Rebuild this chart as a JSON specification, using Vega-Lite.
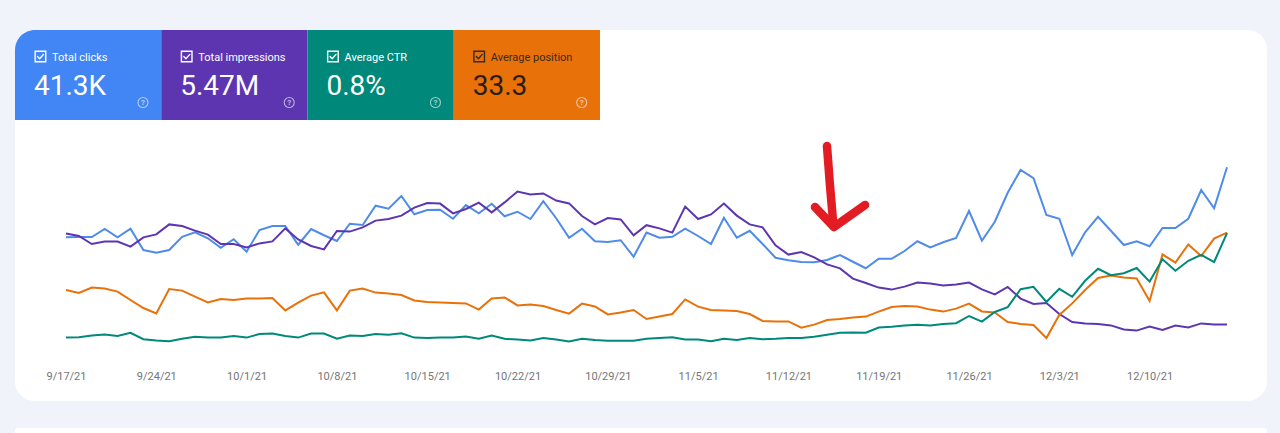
{
  "$schema": "https://vega.github.io/schema/vega-lite/v6.json",
  "background": "#f0f4fa",
  "padding": {"left": 15, "top": 30, "right": 13, "bottom": 0},
  "config": {"view": {"stroke": null}, "font": "Roboto"},
  "datasets": {
    "tiles": [
      {"metric": "Total clicks", "total": "41.3K"},
      {"metric": "Total impressions", "total": "5.47M"},
      {"metric": "Average CTR", "total": "0.8%"},
      {"metric": "Average position", "total": "33.3"}
    ],
    "daily": [
      {"date": "2021-09-17", "clicks": 451, "impressions": 68300, "ctr": 0.61, "position": 32.50},
      {"date": "2021-09-18", "clicks": 452, "impressions": 67000, "ctr": 0.62, "position": 32.65},
      {"date": "2021-09-19", "clicks": 452, "impressions": 63000, "ctr": 0.66, "position": 32.38},
      {"date": "2021-09-20", "clicks": 484, "impressions": 64200, "ctr": 0.69, "position": 32.43},
      {"date": "2021-09-21", "clicks": 451, "impressions": 64200, "ctr": 0.65, "position": 32.58},
      {"date": "2021-09-22", "clicks": 485, "impressions": 61700, "ctr": 0.73, "position": 33.00},
      {"date": "2021-09-23", "clicks": 400, "impressions": 66300, "ctr": 0.57, "position": 33.40},
      {"date": "2021-09-24", "clicks": 389, "impressions": 67800, "ctr": 0.54, "position": 33.67},
      {"date": "2021-09-25", "clicks": 400, "impressions": 72800, "ctr": 0.52, "position": 32.45},
      {"date": "2021-09-26", "clicks": 453, "impressions": 72000, "ctr": 0.58, "position": 32.53},
      {"date": "2021-09-27", "clicks": 471, "impressions": 69700, "ctr": 0.63, "position": 32.83},
      {"date": "2021-09-28", "clicks": 447, "impressions": 67700, "ctr": 0.61, "position": 33.12},
      {"date": "2021-09-29", "clicks": 409, "impressions": 63000, "ctr": 0.61, "position": 32.95},
      {"date": "2021-09-30", "clicks": 443, "impressions": 63000, "ctr": 0.65, "position": 33.00},
      {"date": "2021-10-01", "clicks": 393, "impressions": 61300, "ctr": 0.61, "position": 32.92},
      {"date": "2021-10-02", "clicks": 480, "impressions": 63300, "ctr": 0.70, "position": 32.92},
      {"date": "2021-10-03", "clicks": 496, "impressions": 64300, "ctr": 0.71, "position": 32.90},
      {"date": "2021-10-04", "clicks": 496, "impressions": 70800, "ctr": 0.65, "position": 33.52},
      {"date": "2021-10-05", "clicks": 421, "impressions": 65300, "ctr": 0.61, "position": 33.13},
      {"date": "2021-10-06", "clicks": 484, "impressions": 62000, "ctr": 0.71, "position": 32.78},
      {"date": "2021-10-07", "clicks": 459, "impressions": 60300, "ctr": 0.71, "position": 32.62},
      {"date": "2021-10-08", "clicks": 436, "impressions": 69500, "ctr": 0.58, "position": 33.52},
      {"date": "2021-10-09", "clicks": 505, "impressions": 69200, "ctr": 0.66, "position": 32.53},
      {"date": "2021-10-10", "clicks": 500, "impressions": 71300, "ctr": 0.65, "position": 32.43},
      {"date": "2021-10-11", "clicks": 577, "impressions": 74700, "ctr": 0.70, "position": 32.63},
      {"date": "2021-10-12", "clicks": 565, "impressions": 75500, "ctr": 0.68, "position": 32.68},
      {"date": "2021-10-13", "clicks": 616, "impressions": 77200, "ctr": 0.72, "position": 32.75},
      {"date": "2021-10-14", "clicks": 543, "impressions": 81200, "ctr": 0.61, "position": 33.02},
      {"date": "2021-10-15", "clicks": 560, "impressions": 83500, "ctr": 0.60, "position": 33.10},
      {"date": "2021-10-16", "clicks": 561, "impressions": 83200, "ctr": 0.61, "position": 33.12},
      {"date": "2021-10-17", "clicks": 525, "impressions": 78300, "ctr": 0.61, "position": 33.15},
      {"date": "2021-10-18", "clicks": 580, "impressions": 80500, "ctr": 0.64, "position": 33.17},
      {"date": "2021-10-19", "clicks": 547, "impressions": 83700, "ctr": 0.58, "position": 33.48},
      {"date": "2021-10-20", "clicks": 585, "impressions": 78800, "ctr": 0.66, "position": 32.92},
      {"date": "2021-10-21", "clicks": 535, "impressions": 83800, "ctr": 0.58, "position": 32.87},
      {"date": "2021-10-22", "clicks": 553, "impressions": 89200, "ctr": 0.56, "position": 33.27},
      {"date": "2021-10-23", "clicks": 524, "impressions": 87800, "ctr": 0.54, "position": 33.22},
      {"date": "2021-10-24", "clicks": 595, "impressions": 88300, "ctr": 0.60, "position": 33.30},
      {"date": "2021-10-25", "clicks": 527, "impressions": 84700, "ctr": 0.56, "position": 33.50},
      {"date": "2021-10-26", "clicks": 449, "impressions": 83300, "ctr": 0.51, "position": 33.68},
      {"date": "2021-10-27", "clicks": 485, "impressions": 77000, "ctr": 0.58, "position": 33.18},
      {"date": "2021-10-28", "clicks": 435, "impressions": 72800, "ctr": 0.55, "position": 33.32},
      {"date": "2021-10-29", "clicks": 432, "impressions": 76000, "ctr": 0.53, "position": 33.72},
      {"date": "2021-10-30", "clicks": 439, "impressions": 75300, "ctr": 0.53, "position": 33.63},
      {"date": "2021-10-31", "clicks": 373, "impressions": 67300, "ctr": 0.53, "position": 33.50},
      {"date": "2021-11-01", "clicks": 470, "impressions": 72400, "ctr": 0.58, "position": 33.95},
      {"date": "2021-11-02", "clicks": 449, "impressions": 70800, "ctr": 0.60, "position": 33.83},
      {"date": "2021-11-03", "clicks": 453, "impressions": 68700, "ctr": 0.62, "position": 33.70},
      {"date": "2021-11-04", "clicks": 485, "impressions": 81700, "ctr": 0.56, "position": 32.97},
      {"date": "2021-11-05", "clicks": 456, "impressions": 75500, "ctr": 0.56, "position": 33.33},
      {"date": "2021-11-06", "clicks": 424, "impressions": 77800, "ctr": 0.52, "position": 33.50},
      {"date": "2021-11-07", "clicks": 529, "impressions": 83200, "ctr": 0.58, "position": 33.52},
      {"date": "2021-11-08", "clicks": 449, "impressions": 77200, "ctr": 0.55, "position": 33.55},
      {"date": "2021-11-09", "clicks": 477, "impressions": 72800, "ctr": 0.60, "position": 33.70},
      {"date": "2021-11-10", "clicks": 424, "impressions": 71300, "ctr": 0.57, "position": 34.05},
      {"date": "2021-11-11", "clicks": 369, "impressions": 62300, "ctr": 0.58, "position": 34.07},
      {"date": "2021-11-12", "clicks": 359, "impressions": 57700, "ctr": 0.60, "position": 34.07},
      {"date": "2021-11-13", "clicks": 352, "impressions": 59000, "ctr": 0.60, "position": 34.38},
      {"date": "2021-11-14", "clicks": 351, "impressions": 56300, "ctr": 0.63, "position": 34.23},
      {"date": "2021-11-15", "clicks": 360, "impressions": 52800, "ctr": 0.68, "position": 34.00},
      {"date": "2021-11-16", "clicks": 380, "impressions": 50800, "ctr": 0.73, "position": 33.95},
      {"date": "2021-11-17", "clicks": 353, "impressions": 45700, "ctr": 0.74, "position": 33.88},
      {"date": "2021-11-18", "clicks": 327, "impressions": 43500, "ctr": 0.73, "position": 33.83},
      {"date": "2021-11-19", "clicks": 365, "impressions": 41200, "ctr": 0.86, "position": 33.58},
      {"date": "2021-11-20", "clicks": 365, "impressions": 40200, "ctr": 0.88, "position": 33.35},
      {"date": "2021-11-21", "clicks": 396, "impressions": 41700, "ctr": 0.91, "position": 33.30},
      {"date": "2021-11-22", "clicks": 435, "impressions": 43700, "ctr": 0.93, "position": 33.33},
      {"date": "2021-11-23", "clicks": 410, "impressions": 43200, "ctr": 0.91, "position": 33.48},
      {"date": "2021-11-24", "clicks": 431, "impressions": 42300, "ctr": 0.95, "position": 33.58},
      {"date": "2021-11-25", "clicks": 448, "impressions": 42800, "ctr": 0.97, "position": 33.43},
      {"date": "2021-11-26", "clicks": 556, "impressions": 43700, "ctr": 1.15, "position": 33.18},
      {"date": "2021-11-27", "clicks": 437, "impressions": 40300, "ctr": 1.01, "position": 33.57},
      {"date": "2021-11-28", "clicks": 513, "impressions": 37800, "ctr": 1.25, "position": 33.62},
      {"date": "2021-11-29", "clicks": 629, "impressions": 41500, "ctr": 1.37, "position": 34.10},
      {"date": "2021-11-30", "clicks": 720, "impressions": 35700, "ctr": 1.82, "position": 34.20},
      {"date": "2021-12-01", "clicks": 687, "impressions": 33000, "ctr": 1.88, "position": 34.25},
      {"date": "2021-12-02", "clicks": 540, "impressions": 33500, "ctr": 1.50, "position": 34.90},
      {"date": "2021-12-03", "clicks": 525, "impressions": 28000, "ctr": 1.83, "position": 33.75},
      {"date": "2021-12-04", "clicks": 380, "impressions": 24000, "ctr": 1.63, "position": 33.17},
      {"date": "2021-12-05", "clicks": 471, "impressions": 23200, "ctr": 2.03, "position": 32.50},
      {"date": "2021-12-06", "clicks": 533, "impressions": 23000, "ctr": 2.33, "position": 31.90},
      {"date": "2021-12-07", "clicks": 477, "impressions": 22300, "ctr": 2.17, "position": 31.77},
      {"date": "2021-12-08", "clicks": 420, "impressions": 20300, "ctr": 2.22, "position": 31.88},
      {"date": "2021-12-09", "clicks": 435, "impressions": 19700, "ctr": 2.35, "position": 31.92},
      {"date": "2021-12-10", "clicks": 415, "impressions": 21700, "ctr": 2.01, "position": 33.05},
      {"date": "2021-12-11", "clicks": 488, "impressions": 20000, "ctr": 2.57, "position": 30.72},
      {"date": "2021-12-12", "clicks": 488, "impressions": 22200, "ctr": 2.28, "position": 31.13},
      {"date": "2021-12-13", "clicks": 525, "impressions": 21300, "ctr": 2.53, "position": 30.22},
      {"date": "2021-12-14", "clicks": 640, "impressions": 23300, "ctr": 2.68, "position": 30.80},
      {"date": "2021-12-15", "clicks": 567, "impressions": 22800, "ctr": 2.50, "position": 29.93},
      {"date": "2021-12-16", "clicks": 731, "impressions": 22700, "ctr": 3.22, "position": 29.63}
    ],
    "arrow": [
      {"date": "2021-11-14T23:46:00Z", "level": 816, "part": "shaft", "seq": 1},
      {"date": "2021-11-15T05:17:00Z", "level": 660, "part": "shaft", "seq": 2},
      {"date": "2021-11-15T11:02:00Z", "level": 516, "part": "shaft", "seq": 3},
      {"date": "2021-11-14T01:26:00Z", "level": 572, "part": "head", "seq": 1},
      {"date": "2021-11-15T12:43:00Z", "level": 492, "part": "head", "seq": 2},
      {"date": "2021-11-17T22:34:00Z", "level": 580, "part": "head", "seq": 3}
    ]
  },
  "spacing": 27,
  "vconcat": [
    {
      "spacing": 0,
      "vconcat": [
        {
          "width": 1252,
          "height": 90,
          "data": {"name": "tiles"},
          "layer": [
            {
              "data": {"values": [{}]},
              "mark": {"type": "rect", "fill": "white", "cornerRadiusTopLeft": 20, "cornerRadiusTopRight": 20}
            },
            {
              "transform": [{"filter": "datum.metric === 'Total clicks'"}],
              "mark": {"type": "rect", "cornerRadiusTopLeft": 20},
              "encoding": {
                "x": {"field": "metric", "type": "nominal", "sort": null, "axis": null,
                      "scale": {"type": "band", "domain": ["Total clicks", "Total impressions", "Average CTR", "Average position"], "range": [0, 585], "paddingInner": 0, "paddingOuter": 0}},
                "color": {"field": "metric", "type": "nominal", "legend": null,
                          "scale": {"domain": ["Total clicks", "Total impressions", "Average CTR", "Average position"], "range": ["#4285f4", "#5e35b1", "#00897b", "#e8710a"]}}
              }
            },
            {
              "transform": [{"filter": "datum.metric !== 'Total clicks'"}],
              "mark": {"type": "rect"},
              "encoding": {
                "x": {"field": "metric", "type": "nominal", "sort": null, "axis": null},
                "color": {"field": "metric", "type": "nominal", "legend": null}
              }
            },
            {
              "mark": {"type": "point", "shape": "square", "filled": false, "size": 112, "strokeWidth": 1.4, "opacity": 1, "yOffset": -18.5},
              "encoding": {
                "x": {"field": "metric", "type": "nominal", "bandPosition": 0.174, "axis": null},
                "stroke": {"condition": {"test": "datum.metric === 'Average position'", "value": "#3a2a1a"}, "value": "#ffffff"}
              }
            },
            {
              "mark": {"type": "point", "shape": "M-0.55,0.02L-0.15,0.42L0.58,-0.4", "filled": false, "size": 112, "strokeWidth": 1.4, "opacity": 1, "strokeCap": "round", "strokeJoin": "round", "yOffset": -18.5},
              "encoding": {
                "x": {"field": "metric", "type": "nominal", "bandPosition": 0.174, "axis": null},
                "stroke": {"condition": {"test": "datum.metric === 'Average position'", "value": "#3a2a1a"}, "value": "#ffffff"}
              }
            },
            {
              "mark": {"type": "text", "font": "Roboto", "fontSize": 11, "align": "left", "baseline": "alphabetic", "dx": 37, "dy": -14.5},
              "encoding": {
                "x": {"field": "metric", "type": "nominal", "bandPosition": 0, "axis": null},
                "text": {"field": "metric"},
                "color": {"condition": {"test": "datum.metric === 'Average position'", "value": "#3a2a1a"}, "value": "#ffffff"}
              }
            },
            {
              "mark": {"type": "text", "font": "Roboto", "fontSize": 28, "align": "left", "baseline": "alphabetic", "dx": 19, "dy": 20},
              "encoding": {
                "x": {"field": "metric", "type": "nominal", "bandPosition": 0, "axis": null},
                "text": {"field": "total"},
                "color": {"condition": {"test": "datum.metric === 'Average position'", "value": "#2a1d10"}, "value": "#ffffff"}
              }
            },
            {
              "mark": {"type": "point", "shape": "circle", "filled": false, "size": 100, "strokeWidth": 1.1, "stroke": "#ffffff", "opacity": 0.6, "yOffset": 27.5},
              "encoding": {
                "x": {"field": "metric", "type": "nominal", "bandPosition": 0.875, "axis": null}
              }
            },
            {
              "mark": {"type": "text", "text": "?", "font": "Roboto", "fontSize": 8, "fontWeight": "bold", "align": "center", "baseline": "middle", "dx": 128, "dy": 27.5, "color": "#ffffff", "opacity": 0.6},
              "encoding": {
                "x": {"field": "metric", "type": "nominal", "bandPosition": 0, "axis": null}
              }
            }
          ]
        },
        {
          "width": 1252,
          "height": 281,
          "layer": [
            {
              "data": {"values": [{}]},
              "mark": {"type": "rect", "fill": "white", "cornerRadiusBottomLeft": 20, "cornerRadiusBottomRight": 20}
            },
            {
              "data": {"name": "daily"},
              "encoding": {
                "x": {
                  "field": "date", "type": "temporal", "title": null,
                  "scale": {"type": "utc", "nice": false,
                            "domain": [{"year": 2021, "month": "Sep", "date": 13, "hours": 1, "minutes": 8, "utc": true},
                                       {"year": 2021, "month": "Dec", "date": 19, "hours": 2, "minutes": 24, "utc": true}]},
                  "axis": {
                    "values": [
                      {"year": 2021, "month": "Sep", "date": 17, "utc": true},
                      {"year": 2021, "month": "Sep", "date": 24, "utc": true},
                      {"year": 2021, "month": "Oct", "date": 1, "utc": true},
                      {"year": 2021, "month": "Oct", "date": 8, "utc": true},
                      {"year": 2021, "month": "Oct", "date": 15, "utc": true},
                      {"year": 2021, "month": "Oct", "date": 22, "utc": true},
                      {"year": 2021, "month": "Oct", "date": 29, "utc": true},
                      {"year": 2021, "month": "Nov", "date": 5, "utc": true},
                      {"year": 2021, "month": "Nov", "date": 12, "utc": true},
                      {"year": 2021, "month": "Nov", "date": 19, "utc": true},
                      {"year": 2021, "month": "Nov", "date": 26, "utc": true},
                      {"year": 2021, "month": "Dec", "date": 3, "utc": true},
                      {"year": 2021, "month": "Dec", "date": 10, "utc": true}
                    ],
                    "labelExpr": "utcFormat(datum.value, '%-m/%-d/%y')",
                    "domain": false, "ticks": false, "grid": false, "zindex": 2,
                    "labelFont": "Roboto", "labelFontSize": 11, "labelColor": "#757575",
                    "labelPadding": 0, "offset": -31, "labelOverlap": false, "labelFlush": false
                  }
                }
              },
              "layer": [
                {
                  "mark": {"type": "line", "color": "#4f8be8", "strokeWidth": 2},
                  "encoding": {"y": {"field": "clicks", "type": "quantitative", "axis": null,
                                     "scale": {"domain": [0, 800], "range": [230, 30], "nice": false, "zero": false}}}
                },
                {
                  "mark": {"type": "line", "color": "#5e35b1", "strokeWidth": 2},
                  "encoding": {"y": {"field": "impressions", "type": "quantitative", "axis": null,
                                     "scale": {"domain": [10000, 110000], "range": [230, 30], "nice": false, "zero": false}}}
                },
                {
                  "mark": {"type": "line", "color": "#e8710a", "strokeWidth": 2},
                  "encoding": {"y": {"field": "position", "type": "quantitative", "axis": null,
                                     "scale": {"domain": [25.5, 35.5], "range": [30, 230], "nice": false, "zero": false}}}
                },
                {
                  "mark": {"type": "line", "color": "#00897b", "strokeWidth": 2},
                  "encoding": {"y": {"field": "ctr", "type": "quantitative", "axis": null,
                                     "scale": {"domain": [0.3, 5.3], "range": [230, 30], "nice": false, "zero": false}}}
                },
                {
                  "data": {"name": "arrow"},
                  "mark": {"type": "line", "color": "#e31b23", "strokeWidth": 8.5, "strokeCap": "round", "strokeJoin": "round"},
                  "encoding": {
                    "y": {"field": "level", "type": "quantitative", "axis": null,
                          "scale": {"domain": [0, 800], "range": [230, 30], "nice": false, "zero": false}},
                    "detail": {"field": "part"},
                    "order": {"field": "seq"}
                  }
                }
              ],
              "resolve": {"scale": {"y": "independent"}, "axis": {"y": "independent"}}
            }
          ],
          "resolve": {"scale": {"y": "independent"}}
        }
      ]
    },
    {
      "width": 1252,
      "height": 5,
      "data": {"values": [{}]},
      "mark": {"type": "rect", "fill": "white", "cornerRadiusTopLeft": 5, "cornerRadiusTopRight": 5}
    }
  ]
}
